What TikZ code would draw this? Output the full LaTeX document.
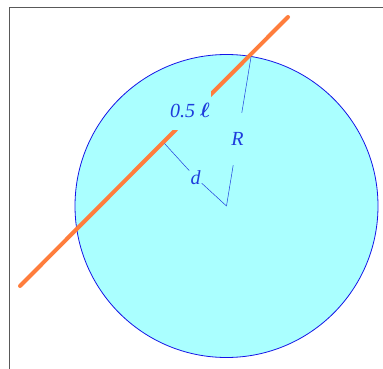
\documentclass[tikz,border=0pt]{standalone}
\usepackage{amsmath}
\usepackage{fontspec}
\setmainfont{Liberation Serif}
\definecolor{discfill}{RGB}{170,255,255}
\definecolor{discline}{RGB}{20,20,230}
\definecolor{chordcol}{RGB}{255,125,60}
\definecolor{labelcol}{RGB}{30,60,220}
\tikzset{
  lab/.style={text=labelcol,font=\fontsize{20}{20}\selectfont\itshape,inner sep=1pt},
  thin line/.style={draw=labelcol,line width=0.5pt}
}
\begin{document}
\begin{tikzpicture}[x=1pt,y=-1pt]
\useasboundingbox (0,0) rectangle (383,369);
\draw[gray!70!black,line width=1.3pt] (383,7.5) -- (9.5,7.5) -- (9.5,369);
\coordinate (O) at (226.5,206);
\coordinate (P) at (251,57);
\coordinate (F) at (164.5,143.5);
\coordinate (A) at (20,286);
\coordinate (B) at (288,17);
\draw[discline,fill=discfill,line width=0.8pt] (O) circle[radius=151.5];
\draw[chordcol,line width=4pt,line cap=round] (A) -- (B);
\node[lab,fill=discfill,minimum height=39pt,inner xsep=1pt] (half) at (190,110.5) {0.5 $\boldsymbol{\ell}$};
\node[lab] (dlab) at (195.5,177.5) {d};
\node[lab,minimum height=52pt] (Rlab) at (237.5,139) {R};
\draw[thin line] (F) -- (dlab);
\draw[thin line] (dlab) -- (O);
\draw[thin line] (O) -- (Rlab);
\draw[thin line] (Rlab) -- (P);
\end{tikzpicture}
\end{document}
